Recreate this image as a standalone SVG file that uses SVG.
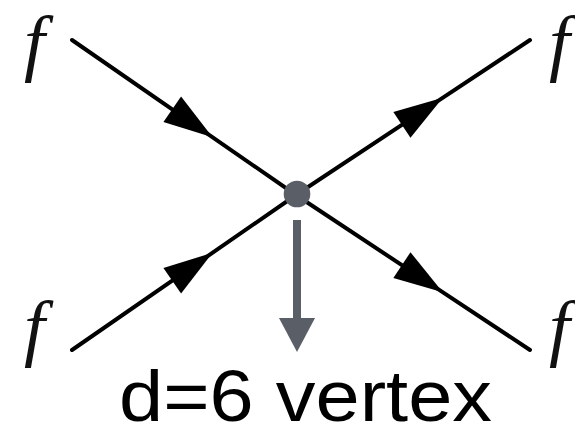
<svg xmlns="http://www.w3.org/2000/svg" width="575" height="429" viewBox="0 0 575 429">
  <style>
    .leg { fill: none; stroke: #000; stroke-width: 4; stroke-linecap: round; marker-mid: url(#tri); }
    .lbl { font-family: "Liberation Serif", "Times New Roman", serif; font-style: italic; font-size: 75px; fill: #111; }
    .cap { font-family: "Liberation Sans", Arial, Helvetica, sans-serif; font-size: 72px; fill: #000; }
  </style>
  <defs>
    <marker id="tri" markerUnits="userSpaceOnUse" markerWidth="60" markerHeight="40" viewBox="-52 -20 60 40" refX="0" refY="0" orient="auto">
      <path d="M2,0 L-47,-15.5 L-47,15.5 Z" fill="#000"/>
    </marker>
  </defs>
  <rect width="575" height="429" fill="#fff"/>

  <!-- external legs of the vertex -->
  <g id="connectors">
    <path class="leg" d="M72,40 L210.9,136.1 L296,195"/>
    <path class="leg" d="M72,350 L210.9,253.9 L296,195"/>
    <path class="leg" d="M296,195 L441.1,98.9 L530,40"/>
    <path class="leg" d="M296,195 L441.1,291.1 L530,350"/>
    <!-- pointer from the vertex to its caption -->
    <g id="pointer" fill="#5a5e66">
      <rect x="293" y="220" width="8" height="100"/>
      <path d="M279,318 L315,318 L297,352 Z"/>
    </g>
  </g>

  <g id="vertex">
    <circle cx="297" cy="194" r="13.3" fill="#5a5e66"/>
  </g>

  <g id="f-in-top"><text class="lbl" x="24" y="67">f</text></g>
  <g id="f-in-bottom"><text class="lbl" x="24" y="352">f</text></g>
  <g id="f-out-top"><text class="lbl" x="549" y="67">f</text></g>
  <g id="f-out-bottom"><text class="lbl" x="549" y="352">f</text></g>

  <g id="caption">
    <text class="cap" x="119" y="421" textLength="373" lengthAdjust="spacingAndGlyphs">d=6 vertex</text>
  </g>
</svg>
